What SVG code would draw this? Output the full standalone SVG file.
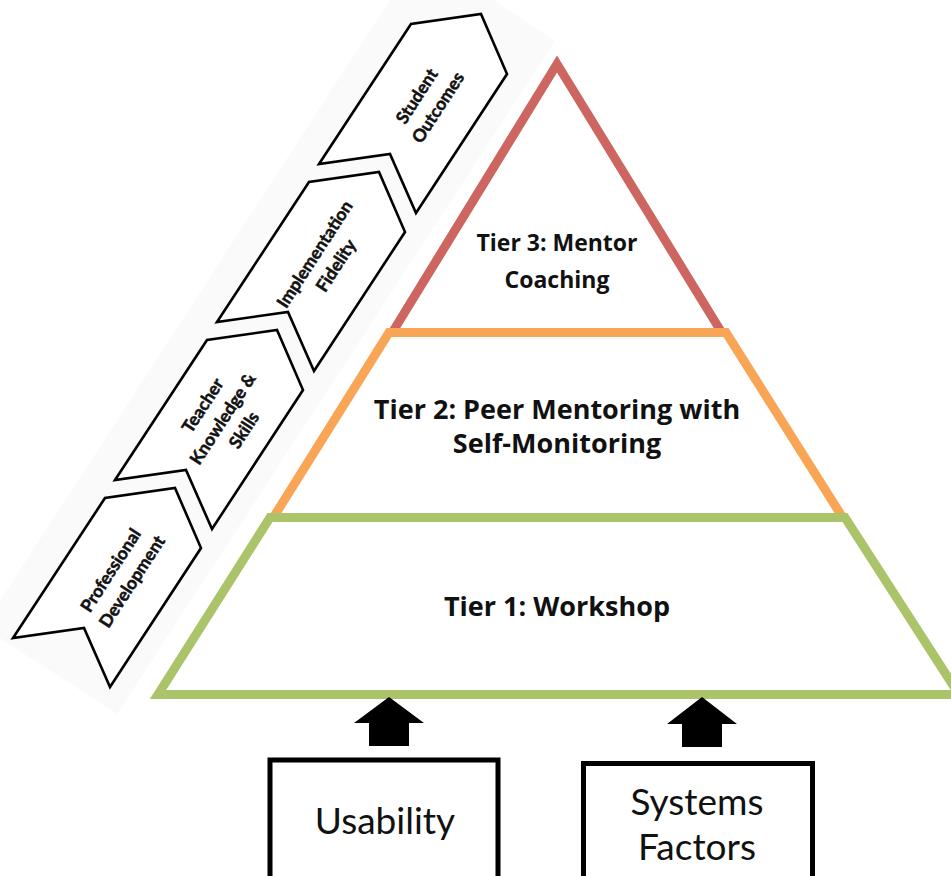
<svg xmlns="http://www.w3.org/2000/svg" xmlns:xlink="http://www.w3.org/1999/xlink" width="951" height="876" viewBox="0 0 951 876">
  <style>
    .chev { fill: #ffffff; stroke: #000000; stroke-width: 2.6; stroke-linejoin: miter; }
    .chev-text { font-family: Lato, "Open Sans", "Liberation Sans", sans-serif; font-weight: bold; font-size: 17.5px; fill: #111111; stroke: #111111; stroke-width: 0.5; text-anchor: middle; }
    .tier-text { font-family: "Open Sans", Lato, "Liberation Sans", sans-serif; font-weight: bold; font-size: 27px; fill: #111111; text-anchor: middle; }
    .tier-text.small { font-size: 23px; }
    .box { fill: #ffffff; stroke: #000000; stroke-width: 5; }
    .box-text { font-family: Lato, "Open Sans", "Liberation Sans", sans-serif; font-size: 37px; fill: #111111; text-anchor: middle; }
    .tier { fill: none; stroke-width: 9; stroke-linejoin: miter; }
    .arrow { fill: #000000; }
  </style>
  <defs>
    <!-- one chevron step of the pathway, pointing up and to the right -->
    <polygon id="chevron" class="chev" points="13,638 105,498 175,488 201,548 110,687 84,628"/>
  </defs>

  <rect width="951" height="876" fill="#ffffff"/>

  <!-- faint panel behind the pathway -->
  <polygon points="-17,627 117,714 555,41 421,-48" fill="#fafafa"/>

  <!-- pathway chevrons -->
  <g id="professional-development">
    <use xlink:href="#chevron"/>
    <text class="chev-text" transform="translate(122,575) rotate(-57)">
      <tspan x="0" y="-6">Professional</tspan>
      <tspan x="0" y="18">Development</tspan>
    </text>
  </g>
  <g id="teacher-knowledge">
    <use xlink:href="#chevron" transform="translate(102,-158)"/>
    <text class="chev-text" transform="translate(224,417) rotate(-57)">
      <tspan x="0" y="-18">Teacher</tspan>
      <tspan x="0" y="6">Knowledge &amp;</tspan>
      <tspan x="0" y="30">Skills</tspan>
    </text>
  </g>
  <g id="implementation-fidelity">
    <use xlink:href="#chevron" transform="translate(204,-316)"/>
    <text class="chev-text" transform="translate(326,259) rotate(-57)">
      <tspan x="0" y="-6">Implementation</tspan>
      <tspan x="0" y="18">Fidelity</tspan>
    </text>
  </g>
  <g id="student-outcomes">
    <use xlink:href="#chevron" transform="translate(306,-474)"/>
    <text class="chev-text" transform="translate(428,101) rotate(-57)">
      <tspan x="0" y="-6">Student</tspan>
      <tspan x="0" y="18">Outcomes</tspan>
    </text>
  </g>

  <!-- pyramid tiers -->
  <g id="tier3">
    <polyline class="tier" stroke="#cd6660" stroke-linejoin="round" points="392,333 557,64 722,333"/>
    <text class="tier-text small" x="557" y="251">Tier 3: Mentor</text>
    <text class="tier-text small" x="557" y="288">Coaching</text>
  </g>
  <g id="tier2">
    <polyline class="tier" stroke="#f9a556" points="273,518 389,332.5 726,332.5 843,518"/>
    <text class="tier-text" x="557" y="419">Tier 2: Peer Mentoring with</text>
    <text class="tier-text" x="557" y="453">Self-Monitoring</text>
  </g>
  <g id="tier1">
    <polygon class="tier" stroke="#abc46a" points="270,517.5 845,517.5 959,694.5 158,694.5"/>
    <text class="tier-text" x="557" y="616">Tier 1: Workshop</text>
  </g>

  <!-- supporting factors -->
  <g id="usability">
    <rect class="box" x="270" y="760" width="228" height="130"/>
    <text class="box-text" x="385" y="834">Usability</text>
  </g>
  <g id="systems-factors">
    <rect class="box" x="583.5" y="763.5" width="229" height="130"/>
    <text class="box-text" x="697" y="815">Systems</text>
    <text class="box-text" x="697" y="860">Factors</text>
  </g>

  <!-- connectors: block arrows into the base tier -->
  <g id="connectors">
    <polygon class="arrow" points="389,697 424,723 409,723 409,746 369,746 369,723 354,723"/>
    <polygon class="arrow" points="702,697 737,724 722,724 722,747 682,747 682,724 667,724"/>
  </g>
</svg>
